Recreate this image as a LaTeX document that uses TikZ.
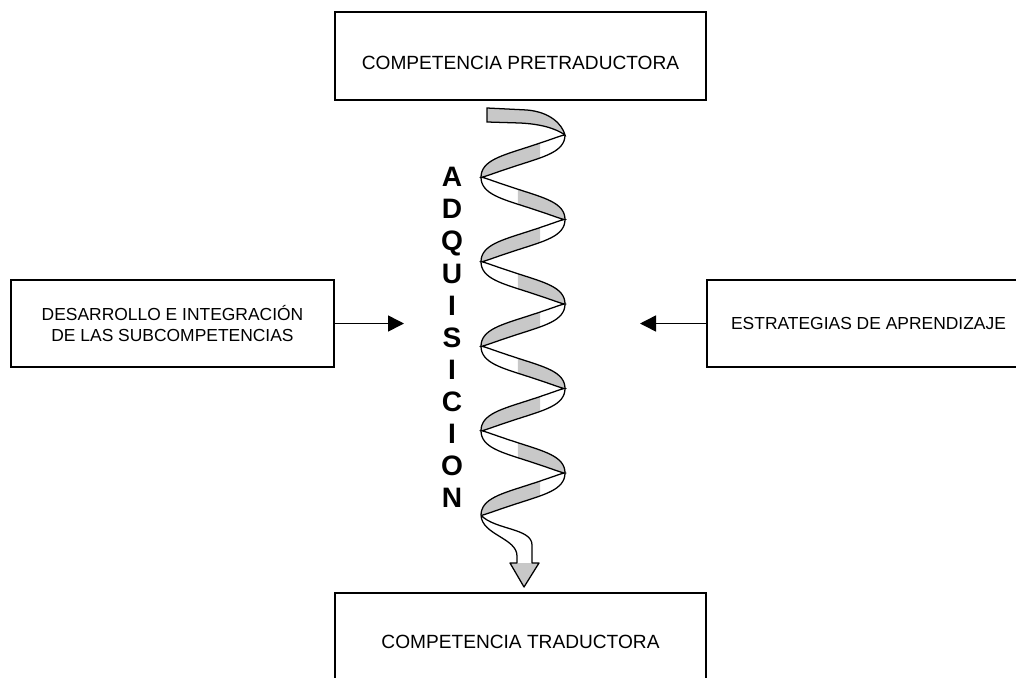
\documentclass[tikz,border=0pt]{standalone}
\usepackage{fontspec}
\setmainfont{Liberation Sans}
\usetikzlibrary{arrows.meta}

\definecolor{ribbongray}{RGB}{200,200,200}

\tikzset{
  box/.style={draw, line width=1.1pt, inner sep=0pt, align=center,
    font=\fontsize{12.4}{15.5}\selectfont},
  bigbox/.style={box, minimum width=9.275cm, font=\fontsize{13.6}{16}\selectfont},
  feed/.style={line width=1.1pt, -{Triangle[length=0.4cm,width=0.4cm]}},
  ribbon/.style={line width=0.9pt},
  word/.style={align=center, font=\fontsize{20}{22.8}\selectfont\bfseries},
  declare function={hx(\t)=523+42*cos(\t); hy(\t)=135+0.2347222*\t;
    off(\t)=7.5*sin(\t)*(2-abs(sin(\t)));}
}

\begin{document}
\begin{tikzpicture}[x=0.025cm, y=-0.025cm]
\useasboundingbox (0,0) rectangle (1016,677);
\clip (0,0) rectangle (1016,677);

% boxes
\node[bigbox, minimum height=2.2cm,
  label={[yshift=-0.17cm, font=\fontsize{13.6}{16}\selectfont]center:COMPETENCIA PRETRADUCTORA}]
  (pretrad) at (520.5,56) {};
\node[bigbox, minimum height=2.425cm] (trad) at (520.5,641.5)
  {COMPETENCIA TRADUCTORA};
\node[box, minimum width=8.075cm, minimum height=2.175cm] (desarrollo) at (172.5,323.5)
  {DESARROLLO E INTEGRACIÓN\\DE LAS SUBCOMPETENCIAS};
\node[box, minimum width=8.075cm, minimum height=2.175cm] (estrategias) at (868.5,323.5)
  {ESTRATEGIAS DE APRENDIZAJE};

% side arrows
\coordinate (inL) at (404,323.5);
\coordinate (inR) at (640,323.5);
\draw[feed] (desarrollo.east) -- (inL);
\draw[feed] (estrategias.west) -- (inR);

% vertical word
\node[word] (adq) at (452,337.5) {A\\D\\Q\\U\\I\\S\\I\\C\\I\\O\\N};

% helix tips
\coordinate (tipA) at ({hx(0)},{hy(0)});
\coordinate (tipB) at ({hx(1620)},{hy(1620)});

% start of the ribbon
\filldraw[ribbon, fill=ribbongray] (487,108) -- (527,110)
  .. controls (550,112) and (562,124) .. (tipA)
  .. controls (555,128) and (540,124) .. (520,123) -- (487,122) -- cycle;

% grey parts of the ribbon
\foreach \k [evaluate=\k as \a using 360*\k+66,
             evaluate=\k as \b using 360*\k+180] in {0,...,4}
  \fill[ribbongray] plot[domain=\a:\b, samples=25] ({hx(\x)},{hy(\x)+off(\x)})
    -- plot[domain=\b:\a, samples=25] ({hx(\x)},{hy(\x)-off(\x)}) -- cycle;
\foreach \k [evaluate=\k as \a using 360*\k+263,
             evaluate=\k as \b using 360*\k+360] in {0,...,3}
  \fill[ribbongray] plot[domain=\a:\b, samples=25] ({hx(\x)},{hy(\x)+off(\x)})
    -- plot[domain=\b:\a, samples=25] ({hx(\x)},{hy(\x)-off(\x)}) -- cycle;

% edges of the ribbon
\draw[ribbon] plot[domain=0:1620, samples=271] ({hx(\x)},{hy(\x)+off(\x)});
\draw[ribbon] plot[domain=0:1620, samples=271] ({hx(\x)},{hy(\x)-off(\x)});

% tail and arrow head
\fill[ribbongray] (510,563) -- (524,587) -- (539,563) -- cycle;
\draw[ribbon, line join=round] (tipB) .. controls (482,535) and (517,538) .. (517,556)
  -- (517,563) -- (510,563) -- (524,587) -- (539,563) -- (532,563) -- (532,545)
  .. controls (532,528) and (495,530) .. (tipB);
\end{tikzpicture}
\end{document}
